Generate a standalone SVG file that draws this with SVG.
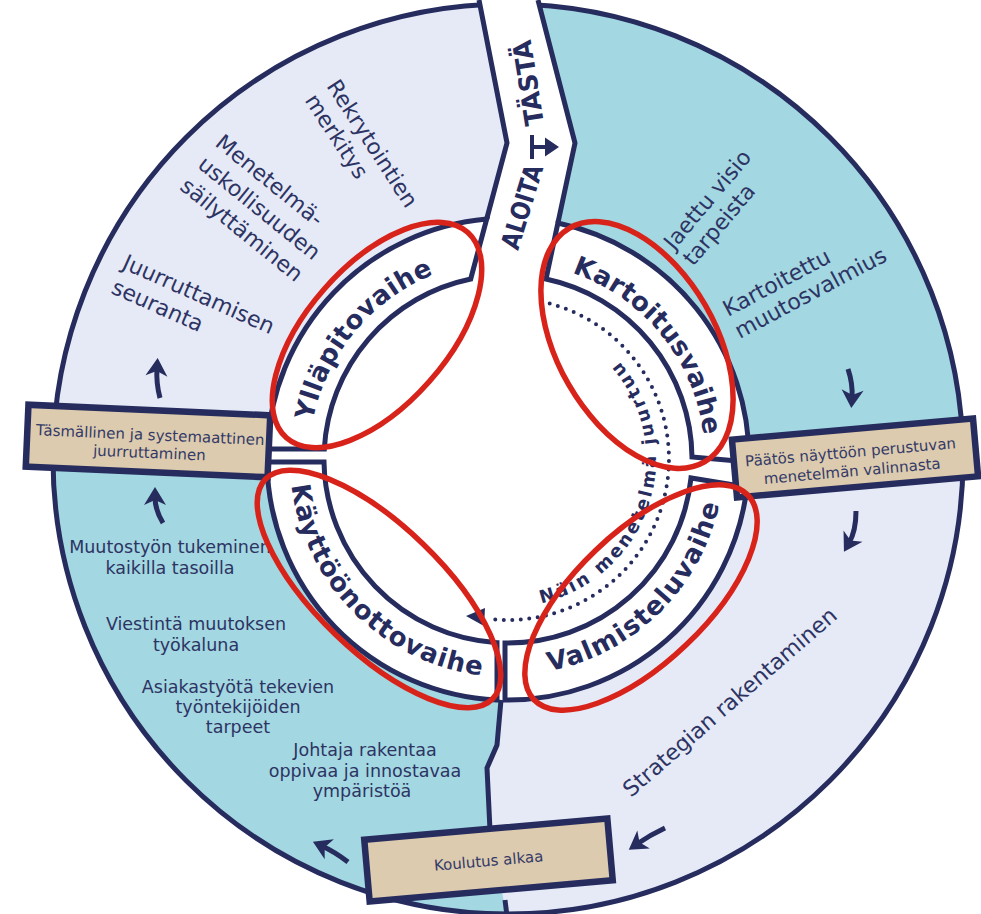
<svg xmlns="http://www.w3.org/2000/svg" width="981" height="914" viewBox="0 0 981 914">
<style>
.nv{fill:none;stroke:#262c5e;stroke-width:5;stroke-linejoin:miter}
.seg{fill:#fff;stroke:#262c5e;stroke-width:5;stroke-linejoin:miter}
.box{fill:#dccbae;stroke:#262c5e;stroke-width:6.5}
.t{font-family:'DejaVu Sans',sans-serif;fill:#2d3463;font-size:22px}
.s{font-family:'DejaVu Sans',sans-serif;fill:#2d3463;font-size:17.5px;text-anchor:middle}
.b{font-family:'DejaVu Sans',sans-serif;fill:#343a68;font-size:15px;text-anchor:middle}
.ph{font-family:'DejaVu Sans',sans-serif;font-weight:bold;font-size:26px;fill:#262c5e}
.nm{font-family:'DejaVu Sans',sans-serif;font-weight:bold;font-size:18px;fill:#262c5e}
.red{fill:none;stroke:#d8231b;stroke-width:5.5}
.arr{fill:none;stroke:#262c5e;stroke-width:5}
</style>
<defs>
<clipPath id="oc"><circle cx="508" cy="459" r="455"/></clipPath>
<marker id="ah" viewBox="-10 -12 22 24" markerWidth="22" markerHeight="24" refX="0" refY="0" orient="auto" markerUnits="userSpaceOnUse"><path d="M10,0 L-8,-11 L-3,0 L-8,11 Z" fill="#262c5e"/></marker>
<path id="pY" d="M312.7,421 A199,199 0 0 1 433.5,274.5"/>
<path id="pK" d="M572.1,272.7 A197,197 0 0 1 703.5,435"/>
<path id="pV" d="M549.2,671 A216,216 0 0 0 719.3,503.9"/>
<path id="pKa" d="M291.6,485.6 A218,218 0 0 0 481.4,675.4"/>
<path id="pN" d="M541.3,603.2 A148,148 0 0 0 610.8,352.5"/>
</defs>

<g id="background" clip-path="url(#oc)">
<rect x="0" y="0" width="981" height="914" fill="#e6eaf7"/>
<polygon fill="#a3d7e1" points="538,-5 575,143 546,279 508,459 981,458 981,-5"/>
<polygon fill="#a3d7e1" points="0,440 508,459 501,701 497,745 487,768 490,825 500,880 506,914 0,914"/>
</g>
<circle id="outer-ring" cx="508" cy="459" r="455" class="nv"/>

<g id="start-band">
<polygon fill="#fff" points="479,-5 507,143 486.7,219 470.7,279 508,400 546,279 557.9,223 575,143 538,-5"/>
<circle cx="508" cy="459" r="241" fill="#fff"/>
<polyline class="nv" points="479,0 507,143 486.7,219"/>
<polyline class="nv" points="538,0 575,143 557.9,223"/>
<text class="ph" font-size="22" transform="translate(518,251) rotate(-73)" textLength="87" lengthAdjust="spacingAndGlyphs">ALOITA</text>
<text class="ph" font-size="22" transform="translate(544,124) rotate(-99)" textLength="86" lengthAdjust="spacingAndGlyphs">TÄSTÄ</text>
<path d="M532,135 L532,159 M532,147 L548,147" fill="none" stroke="#262c5e" stroke-width="4"/>
<polygon points="559,147 545,137.5 545,156.5" fill="#262c5e"/>
</g>

<g id="connectors">
<polyline class="nv" points="501,700 497,745 487,768 490,830"/>
<line class="nv" x1="505" y1="900" x2="507" y2="916"/>
<path class="arr" d="M160,398 Q156,383 157,368" marker-end="url(#ah)"/>
<path class="arr" d="M163,523 Q155,510 155,497" marker-end="url(#ah)"/>
<path class="arr" d="M848,369 Q853,384 852,398" marker-end="url(#ah)"/>
<path class="arr" d="M856,511 Q856,531 849,543" marker-end="url(#ah)"/>
<path class="arr" d="M665,828 Q650,835 637,844" marker-end="url(#ah)"/>
<path class="arr" d="M348,862 Q335,852 322,846" marker-end="url(#ah)"/>
<path d="M549.7,303.5 A161,161 0 0 1 488.4,618.8" fill="none" stroke="#262c5e" stroke-width="4" stroke-linecap="round" stroke-dasharray="0 8.5"/>
<polygon points="466,616 485,608 484,626" fill="#262c5e"/>
</g>

<g id="yllapitovaihe">
<path class="seg" d="M267.2,449 A241,241 0 0 1 486.7,219 L470.7,279 A184,184 0 0 0 324.3,449 Z"/>
<text class="ph"><textPath href="#pY" textLength="198" lengthAdjust="spacing">Ylläpitovaihe</textPath></text>
</g>
<g id="kartoitusvaihe">
<path class="seg" d="M557.9,223 A241,241 0 0 1 749,462 L692,457 A184,184 0 0 0 546,279 Z"/>
<text class="ph"><textPath href="#pK" textLength="220" lengthAdjust="spacing">Kartoitusvaihe</textPath></text>
</g>
<g id="valmisteluvaihe">
<path class="seg" d="M747,487 A241,241 0 0 1 505,700 L505,643 A184,184 0 0 0 691,478 Z"/>
<text class="ph"><textPath href="#pV" textLength="252" lengthAdjust="spacing">Valmisteluvaihe</textPath></text>
</g>
<g id="kayttoonottovaihe">
<path class="seg" d="M497,700 A241,241 0 0 1 267,462 L324,462 A184,184 0 0 0 497,642.7 Z"/>
<text class="ph"><textPath href="#pKa" textLength="289" lengthAdjust="spacing">Käyttöönottovaihe</textPath></text>
</g>
<g id="inner-label">
<text class="nm"><textPath href="#pN" textLength="305" lengthAdjust="spacing">Näin menetelmä juurtuu</textPath></text>
</g>

<g id="texts-top-left">
<text class="t" transform="translate(326,86) rotate(57)"><tspan x="0" y="0">Rekrytointien</tspan><tspan x="0" y="26">merkitys</tspan></text>
<text class="t" transform="translate(214,145) rotate(39)"><tspan x="0" y="0">Menetelmä-</tspan><tspan x="0" y="28">uskollisuuden</tspan><tspan x="0" y="56">säilyttäminen</tspan></text>
<text class="t" transform="translate(121,268) rotate(24)"><tspan x="0" y="0">Juurruttamisen</tspan><tspan x="0" y="27">seuranta</tspan></text>
</g>
<g id="texts-top-right">
<text class="t" transform="translate(674,251) rotate(-50)"><tspan x="0" y="0">Jaettu visio</tspan><tspan x="0" y="25">tarpeista</tspan></text>
<text class="t" transform="translate(728,317) rotate(-28)"><tspan x="0" y="0">Kartoitettu</tspan><tspan x="0" y="25">muutosvalmius</tspan></text>
</g>
<g id="texts-bottom-right">
<text class="t" transform="translate(631,798) rotate(-41)">Strategian rakentaminen</text>
</g>
<g id="texts-bottom-left">
<text class="s"><tspan x="170" y="553">Muutostyön tukeminen</tspan><tspan x="170" y="574">kaikilla tasoilla</tspan></text>
<text class="s"><tspan x="196" y="630">Viestintä muutoksen</tspan><tspan x="196" y="651">työkaluna</tspan></text>
<text class="s"><tspan x="238" y="693">Asiakastyötä tekevien</tspan><tspan x="238" y="713">työntekijöiden</tspan><tspan x="238" y="733">tarpeet</tspan></text>
<text class="s" font-size="18.5"><tspan x="365" y="756">Johtaja rakentaa</tspan><tspan x="365" y="777">oppivaa ja innostavaa</tspan><tspan x="362" y="797">ympäristöä</tspan></text>
</g>

<g id="box-tasmallinen" transform="translate(148,441) rotate(2.5)">
<rect class="box" x="-121" y="-31" width="242" height="62"/>
<text class="b"><tspan x="2" y="-1">Täsmällinen ja systemaattinen</tspan><tspan x="2" y="17">juurruttaminen</tspan></text>
</g>
<g id="box-paatos" transform="translate(855,458) rotate(-5)">
<rect class="box" x="-121" y="-29" width="242" height="58"/>
<text class="b"><tspan x="-4" y="-1">Päätös näyttöön perustuvan</tspan><tspan x="-4" y="18">menetelmän valinnasta</tspan></text>
</g>
<g id="box-koulutus" transform="translate(488.5,860) rotate(-5)">
<rect class="box" x="-122" y="-31" width="244" height="62"/>
<text class="b" x="0" y="6">Koulutus alkaa</text>
</g>

<g id="highlights">
<ellipse class="red" cx="377" cy="335" rx="137" ry="70" transform="rotate(-48.6 377 335)"/>
<ellipse class="red" cx="637" cy="345" rx="135" ry="79" transform="rotate(60 637 345)"/>
<ellipse class="red" cx="379" cy="589" rx="158" ry="63" transform="rotate(44 379 589)"/>
<ellipse class="red" cx="641" cy="597.5" rx="148" ry="65.5" transform="rotate(-43.7 641 597.5)"/>
</g>
</svg>
